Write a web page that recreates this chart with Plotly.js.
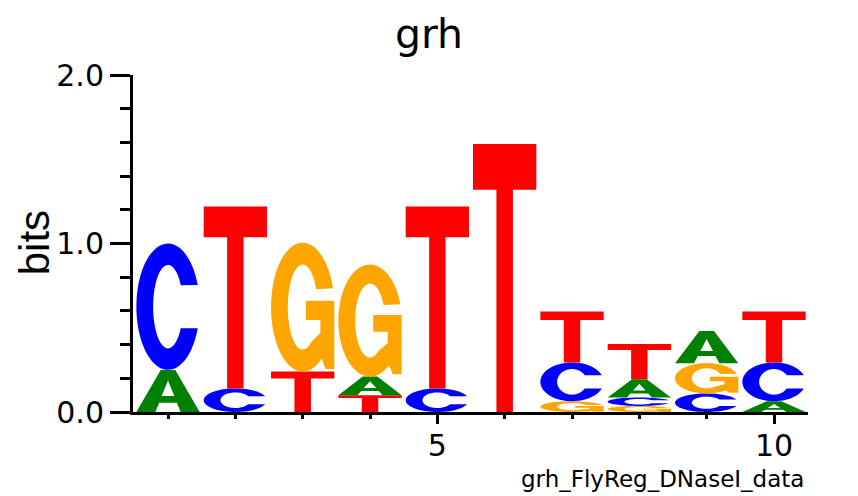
<!DOCTYPE html>
<html><head><meta charset="utf-8">
<script src="https://cdn.plot.ly/plotly-3.0.1.min.js"></script>
<style>html,body{margin:0;padding:0;background:#fff;} #chart{width:858px;height:496px;}</style>
</head><body><div id="chart"></div>
<script>
const positions = [1, 2, 3, 4, 5, 6, 7, 8, 9, 10];
const bitsA = [0.25, 0,    0,     0.11,  0,    0,    0,     0.108, 0.19, 0.064];
const bitsC = [0.75, 0.14, 0,     0,     0.14, 0,    0.23,  0.05,  0.11, 0.23];
const bitsG = [0,    0,    0.765, 0.665, 0,    0,    0.064, 0.036, 0.18, 0];
const bitsT = [0,    1.08, 0.24,  0.10,  1.08, 1.59, 0.303, 0.21,  0,    0.303];
const letterNames = ['A', 'C', 'G', 'T'];
const yTickVals = [0, 1, 2];
const yTickText = ['0.0', '1.0', '2.0'];
const xTickVals = [5, 10];
const xTickText = ['5', '10'];
const chartTitle = 'grh';
const yLabel = 'bits';
const footLabel = 'grh_FlyReg_DNaseI_data';

// ---- styles ----
const letterColors = {A: '#008000', C: '#0000FF', G: '#FFA500', T: '#FF0000'};
const halfWidth = 0.47;

function arc(cx, cy, rx, ry, a0, a1, n) {
  const pts = [];
  for (let i = 0; i <= n; i++) {
    const a = (a0 + (a1 - a0) * i / n) * Math.PI / 180;
    pts.push([cx + rx * Math.cos(a), cy + ry * Math.sin(a)]);
  }
  return pts;
}
// glyph outlines in a unit box (0..1 x 0..1)
const glyphs = {
  A: [[[0,0],[0.385,1],[0.615,1],[1,0],[0.7,0],[0.64,0.22],[0.36,0.22],[0.3,0]],
      [[0.4,0.38],[0.6,0.38],[0.5,0.75]]],
  C: [arc(0.5,0.5,0.5,0.5,20,340,60).concat(arc(0.5,0.5,0.235,0.33,-31,-329,60))],
  G: [arc(0.5,0.5,0.5,0.5,17,307,60)
        .concat([[0.86,0.02],[1,0.02],[1,0.55],[0.55,0.55],[0.55,0.4],[0.78,0.4],[0.78,0.3]])
        .concat(arc(0.5,0.5,0.235,0.33,-55,-335,60))],
  T: [[[0,0.83],[0,1],[1,1],[1,0.83],[0.63,0.83],[0.63,0],[0.37,0],[0.37,0.83]]]
};

function glyphPath(letter, xc, y0, h) {
  return glyphs[letter].map(contour =>
    'M' + contour.map(p => (xc - halfWidth + p[0] * 2 * halfWidth).toFixed(5) + ',' + (y0 + p[1] * h).toFixed(5)).join('L') + 'Z'
  ).join(' ');
}

const series = {A: bitsA, C: bitsC, G: bitsG, T: bitsT};
const shapes = [];
positions.forEach((pos, i) => {
  const stack = letterNames.map(l => ({l, h: series[l][i]})).filter(d => d.h > 0).sort((a, b) => a.h - b.h);
  let y0 = 0;
  stack.forEach(d => {
    shapes.push({type: 'path', xref: 'x', yref: 'y', path: glyphPath(d.l, pos, y0, d.h),
      fillcolor: letterColors[d.l], line: {width: 0}, layer: 'above'});
    y0 += d.h;
  });
});

const traces = [{x: positions, y: positions.map(() => 0), type: 'scatter', mode: 'none', hoverinfo: 'skip', showlegend: false}];

const tickFont = {family: 'DejaVu Sans, Liberation Sans, sans-serif', size: 30, color: '#000'};
const layout = {
  width: 858, height: 496,
  margin: {l: 133, r: 50, t: 75, b: 84, pad: 0},
  paper_bgcolor: '#fff', plot_bgcolor: '#fff',
  showlegend: false,
  font: {family: 'Liberation Sans, Arial, sans-serif', color: '#000'},
  title: {text: chartTitle, font: {family: 'DejaVu Sans, sans-serif', size: 41, color: '#000'},
          x: 0.5, xref: 'container', xanchor: 'center', y: 1 - 34 / 496, yref: 'container', yanchor: 'middle'},
  xaxis: {range: [0.48, 10.505], showgrid: false, zeroline: false, showline: true, linecolor: '#000', linewidth: 3,
          ticks: 'outside', ticklen: 9, tickwidth: 3, tickcolor: '#000', tickmode: 'array', tickvals: xTickVals, ticktext: xTickText,
          tickfont: tickFont, ticklabelstandoff: -4,
          minor: {tickmode: 'linear', tick0: 0, dtick: 1, ticks: 'outside', ticklen: 4, tickwidth: 3, tickcolor: '#000'},
          fixedrange: true},
  yaxis: {range: [0, 2], showgrid: false, zeroline: false, showline: true, linecolor: '#000', linewidth: 3,
          ticks: 'outside', ticklen: 20, tickwidth: 3, tickcolor: '#000', tickmode: 'array', tickvals: yTickVals, ticktext: yTickText,
          tickfont: tickFont,
          minor: {tickmode: 'linear', tick0: 0, dtick: 0.2, ticks: 'outside', ticklen: 10, tickwidth: 3, tickcolor: '#000'},
          fixedrange: true},
  shapes: shapes,
  annotations: [
    {text: yLabel, xref: 'paper', yref: 'paper', x: (34 - 133) / 675, y: (412.5 - 243.5) / 337.5, textangle: -90,
     xanchor: 'center', yanchor: 'middle', showarrow: false, font: {family: 'Liberation Sans, Arial, sans-serif', size: 42, color: '#000'}},
    {text: footLabel, xref: 'paper', yref: 'paper', x: (806 - 133) / 675, y: (412.5 - 480) / 337.5,
     xanchor: 'right', yanchor: 'middle', showarrow: false, font: {family: 'DejaVu Sans, sans-serif', size: 23, color: '#000'}}
  ]
};

Plotly.newPlot('chart', traces, layout, {staticPlot: true, displayModeBar: false});
</script>
</body></html>
